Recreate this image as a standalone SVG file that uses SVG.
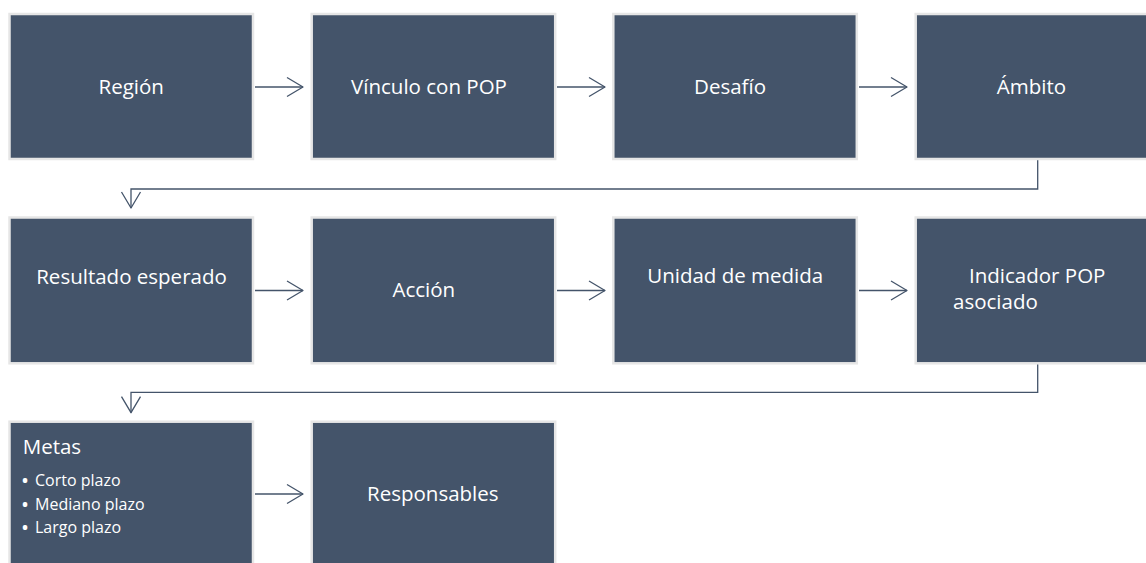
<svg xmlns="http://www.w3.org/2000/svg" width="1146" height="563" viewBox="0 0 1146 563">
<style>
.box{fill:#44546A;stroke:#E6E6E6;stroke-width:2.5}
.t{font-family:"Open Sans","Liberation Sans",sans-serif;font-size:20.5px;fill:#FFFFFF}
.m{text-anchor:middle}
.b{font-family:"Open Sans","Liberation Sans",sans-serif;font-size:16px;fill:#FFFFFF}
.d{font-weight:bold}
.c{fill:none;stroke:#44546A;stroke-width:1.3}
</style>
<defs>
<marker id="ah" markerUnits="userSpaceOnUse" viewBox="0 0 18 22" refX="17" refY="11" markerWidth="18" markerHeight="22" orient="auto">
<path d="M1,1.5 L17,11 L1,20.5" fill="none" stroke="#44546A" stroke-width="1.3" stroke-linejoin="round"/>
</marker>
</defs>
<rect width="1146" height="563" fill="#FFFFFF"/>
<g id="connectors">
<path class="c" d="M255,87 H303" marker-end="url(#ah)"/>
<path class="c" d="M557,87 H605" marker-end="url(#ah)"/>
<path class="c" d="M859,87 H907" marker-end="url(#ah)"/>
<path class="c" d="M1037.7,159 V189 H131 V208" marker-end="url(#ah)"/>
<path class="c" d="M255,290.5 H303" marker-end="url(#ah)"/>
<path class="c" d="M557,290.5 H605" marker-end="url(#ah)"/>
<path class="c" d="M859,290.5 H907" marker-end="url(#ah)"/>
<path class="c" d="M1037.7,363 V392.3 H131 V412.7" marker-end="url(#ah)"/>
<path class="c" d="M255,494 H303" marker-end="url(#ah)"/>
</g>
<g id="n-region"><rect class="box" x="9.5" y="14" width="243.5" height="145"/><text class="t m" x="131.2" y="94">Región</text></g>
<g id="n-vinculo"><rect class="box" x="311.7" y="14" width="243.5" height="145"/><text class="t m" x="429" y="94">Vínculo con POP</text></g>
<g id="n-desafio"><rect class="box" x="613.3" y="14" width="243.5" height="145"/><text class="t m" x="730" y="94">Desafío</text></g>
<g id="n-ambito"><rect class="box" x="915.7" y="14" width="243.5" height="145"/><text class="t m" x="1031.5" y="94">Ámbito</text></g>
<g id="n-resultado"><rect class="box" x="9.5" y="217.5" width="243.5" height="145.8"/><text class="t m" x="131.5" y="284">Resultado esperado</text></g>
<g id="n-accion"><rect class="box" x="311.7" y="217.5" width="243.5" height="145.8"/><text class="t m" x="423.8" y="297.3">Acción</text></g>
<g id="n-unidad"><rect class="box" x="613.3" y="217.5" width="243.5" height="145.8"/><text class="t m" x="735.2" y="283.3">Unidad de medida</text></g>
<g id="n-indicador"><rect class="box" x="915.7" y="217.5" width="243.5" height="145.8"/><text class="t" x="969" y="283">Indicador POP</text><text class="t" x="953" y="309">asociado</text></g>
<g id="n-metas"><rect class="box" x="9.5" y="421.7" width="243.5" height="146"/>
<text class="t" x="22.7" y="454">Metas</text>
<text class="b" y="486"><tspan class="d" x="22">•</tspan><tspan x="35">Corto plazo</tspan></text>
<text class="b" y="510"><tspan class="d" x="22">•</tspan><tspan x="35">Mediano plazo</tspan></text>
<text class="b" y="533"><tspan class="d" x="22">•</tspan><tspan x="35">Largo plazo</tspan></text>
</g>
<g id="n-responsables"><rect class="box" x="311.7" y="421.7" width="243.5" height="146"/><text class="t m" x="432.8" y="501">Responsables</text></g>
</svg>
